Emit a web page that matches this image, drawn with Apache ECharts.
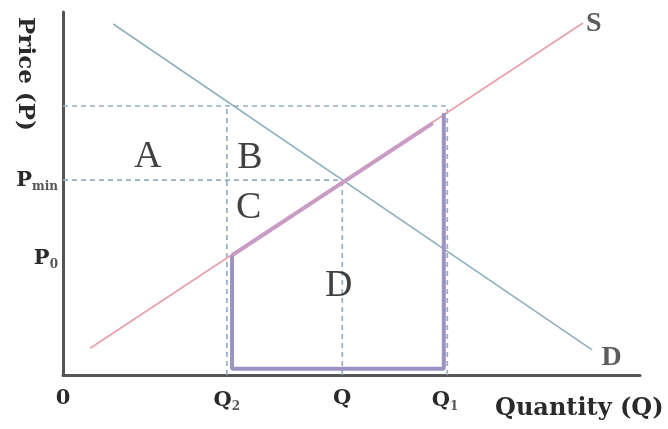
<!DOCTYPE html>
<html>
<head>
<meta charset="utf-8">
<script src="https://cdn.jsdelivr.net/npm/echarts@6/dist/echarts.min.js"></script>
<style>
  html, body { margin: 0; padding: 0; background: #fff; }
  #main { width: 668px; height: 429px; }
</style>
</head>
<body>
<div id="main"></div>
<script>
// 坐标刻度 (数量 / 价格)
const quantityTicks = [0, 2.84, 4.84, 6.62];
const quantityTickLabels = ['{b|0}', '{b|Q}{s|2}', '{b|Q}', '{b|Q}{s|1}'];
const priceTicks = [3.22, 5.37];
const priceTickLabels = ['{b|P}{s|0}', '{b|P}{s|min}'];

// 需求曲线 D 和供给曲线 S
const demandLine = [[0.87, 9.67], [9.17, 0.69]];
const supplyLine = [[0.47, 0.74], [9.01, 9.70]];

// 虚线辅助线
const guideLines = [
  [[0, 7.41], [6.71, 7.41]],
  [[2.84, 0], [2.84, 7.41]],
  [[6.66, 0], [6.66, 7.41]],
  [[0, 5.37], [4.84, 5.37]],
  [[4.84, 0], [4.84, 5.37]]
];

// 紫色区域边框
const areaOutline = [[2.93, 3.3], [2.93, 0.17], [6.6, 0.17], [6.6, 7.22]];
const areaTop = [[2.93, 3.3], [6.41, 6.94]];

// 区域字母和曲线名
const areaLetters = [['A', 1.47, 6.0], ['B', 3.24, 5.98], ['C', 3.22, 4.6], ['D', 4.78, 2.45]];
const curveNames = [['S', 9.2, 9.67], ['D', 9.51, 0.47]];

const chart = echarts.init(document.getElementById('main'));

const tickRich = {
  b: { fontFamily: 'DejaVu Serif', fontWeight: 'bold', fontSize: 21, color: '#2a2a2a' },
  s: { fontFamily: 'DejaVu Serif', fontWeight: 'bold', fontSize: 12, color: '#555', padding: [13, 0, 0, 0] }
};

const guideSeries = guideLines.map(seg => ({
  type: 'line',
  data: seg,
  showSymbol: false,
  silent: true,
  lineStyle: { color: '#98aec6', width: 1.7, type: [5, 4] },
  z: 2
}));

const option = {
  animation: false,
  backgroundColor: '#fff',
  grid: { left: 63, right: 28, top: 12, bottom: 54, outerBoundsMode: 'none' },
  xAxis: {
    type: 'value',
    min: 0,
    max: 10,
    splitLine: { show: false },
    axisTick: { show: false },
    axisLine: { lineStyle: { color: '#555', width: 3 } },
    axisLabel: {
      customValues: quantityTicks,
      margin: 13,
      formatter: v => quantityTickLabels[quantityTicks.indexOf(v)],
      rich: tickRich
    }
  },
  yAxis: {
    type: 'value',
    min: 0,
    max: 10,
    splitLine: { show: false },
    axisTick: { show: false },
    axisLine: { lineStyle: { color: '#555', width: 3 } },
    axisLabel: {
      customValues: priceTicks,
      margin: 5,
      formatter: v => priceTickLabels[priceTicks.indexOf(v)],
      rich: tickRich
    }
  },
  graphic: [
    {
      type: 'text',
      x: 25,
      y: 74,
      rotation: -Math.PI / 2,
      style: {
        text: 'Price (P)',
        fontFamily: 'DejaVu Serif',
        fontWeight: 'bold',
        fontSize: 23,
        fill: '#2a2a2a',
        align: 'center',
        verticalAlign: 'middle'
      }
    },
    {
      type: 'text',
      x: 495,
      y: 409,
      style: {
        text: 'Quantity (Q)',
        fontFamily: 'DejaVu Serif',
        fontWeight: 'bold',
        fontSize: 24,
        fill: '#2a2a2a',
        align: 'left',
        verticalAlign: 'middle'
      }
    }
  ],
  series: [
    ...guideSeries,
    {
      type: 'line',
      data: demandLine,
      showSymbol: false,
      silent: true,
      lineStyle: { color: '#8fb0c2', width: 1.6 },
      z: 3
    },
    {
      type: 'line',
      data: supplyLine,
      showSymbol: false,
      silent: true,
      lineStyle: { color: '#e8a2ae', width: 1.8 },
      z: 3
    },
    {
      type: 'line',
      data: areaOutline,
      showSymbol: false,
      silent: true,
      lineStyle: { color: '#9d92c2', width: 4 },
      z: 4
    },
    {
      type: 'line',
      data: areaTop,
      showSymbol: false,
      silent: true,
      lineStyle: { color: '#c89cc4', width: 4 },
      z: 4
    },
    {
      type: 'scatter',
      symbolSize: 0,
      silent: true,
      data: areaLetters.map(a => ({ name: a[0], value: [a[1], a[2]] })),
      label: {
        show: true,
        position: 'inside',
        formatter: '{b}',
        fontFamily: 'Liberation Serif',
        fontSize: 38,
        color: '#111'
      },
      z: 5
    },
    {
      type: 'scatter',
      symbolSize: 0,
      silent: true,
      data: curveNames.map(a => ({ name: a[0], value: [a[1], a[2]] })),
      label: {
        show: true,
        position: 'inside',
        formatter: '{b}',
        fontFamily: 'Liberation Serif',
        fontWeight: 'bold',
        fontSize: 28,
        color: '#333'
      },
      z: 5
    }
  ]
};

chart.setOption(option);
</script>
</body>
</html>
